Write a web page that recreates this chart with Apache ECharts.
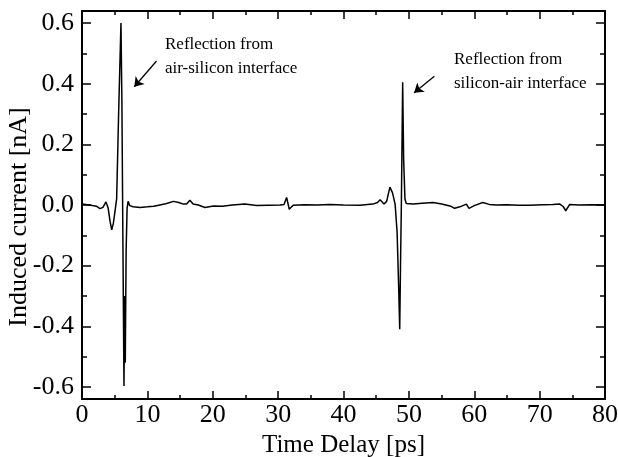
<!DOCTYPE html>
<html>
<head>
<meta charset="utf-8">
<script src="https://cdn.jsdelivr.net/npm/echarts@6/dist/echarts.min.js"></script>
<style>
html,body{margin:0;padding:0;background:#fff;}
#chart{width:618px;height:457px;}
</style>
</head>
<body>
<div id="chart"></div>
<script>
// ---- data ----
const timePs = [0,0.8,1.6,2.2,2.75,3.2,3.67,4.0,4.3,4.55,4.8,5.05,5.3,5.6,5.96,6.1,6.25,6.42,6.52,6.62,6.75,6.9,7.05,7.3,7.8,8.9,10.0,11.0,11.9,12.8,14.0,14.8,15.5,16.0,16.5,17.0,17.8,18.8,20.1,21.5,23.0,24.9,26.7,28.5,30.3,30.9,31.3,31.7,32.3,34.0,36.0,37.9,40.0,42.5,44.5,45.2,45.6,46.2,46.6,47.1,47.5,47.9,48.2,48.45,48.6,48.72,48.85,49.05,49.2,49.4,49.6,50.7,52.0,53.7,55.0,56.3,57.0,57.8,58.8,59.2,60.0,61.3,62.3,63.4,65.0,66.8,68.5,70.5,72.0,73.1,73.6,74.0,74.6,76.0,78.0,80.0];
const currentNA = [0.003,0.001,-0.002,-0.004,-0.012,-0.008,0.010,-0.01,-0.055,-0.082,-0.06,-0.02,0.02,0.3,0.600,0.35,-0.1,-0.597,-0.3,-0.52,-0.15,-0.01,0.012,-0.002,-0.006,-0.008,-0.006,-0.004,0.0,0.004,0.012,0.008,0.003,0.003,0.016,0.003,0.0,-0.008,-0.003,-0.004,0.0,0.003,-0.002,-0.001,0.0,0.002,0.025,-0.014,-0.001,0.001,0.0,0.002,0.0,-0.001,0.003,0.008,0.017,0.003,0.012,0.059,0.04,0.002,-0.09,-0.28,-0.41,-0.2,0.0,0.405,0.15,0.02,0.005,0.003,0.006,0.008,0.003,-0.003,-0.011,-0.006,0.003,-0.011,-0.002,0.008,0.002,0.0,0.001,-0.001,-0.001,0.001,0.002,0.003,-0.005,-0.019,0.002,0.0,0.001,0.0];
const yMajorTicks = [-0.6,-0.4,-0.2,0.0,0.2,0.4,0.6];
const yMinorTicks = [-0.5,-0.3,-0.1,0.1,0.3,0.5];
const xLabel = 'Time Delay [ps]';
const yLabel = 'Induced current [nA]';
const noteLeft = ['Reflection from', 'air-silicon interface'];
const noteRight = ['Reflection from', 'silicon-air interface'];

const FONT = '"Liberation Serif","Times New Roman",serif';
const seriesData = timePs.map((t, i) => [t, currentNA[i]]);

const axisLineStyle = {show: true, onZero: false, lineStyle: {color: '#000', width: 2}};
function xAx(pos, showLabel) {
  return {
    type: 'value', position: pos, min: 0, max: 80, interval: 10,
    axisLine: axisLineStyle,
    axisTick: {show: true, inside: true, length: 8, lineStyle: {color: '#000', width: 1.5}},
    minorTick: {show: true, splitNumber: 2, length: 4, lineStyle: {color: '#000', width: 1.5}},
    axisLabel: {show: showLabel, color: '#000', fontFamily: FONT, fontSize: 26, margin: 3},
    splitLine: {show: false}, minorSplitLine: {show: false},
    name: showLabel ? xLabel : '', nameLocation: 'middle', nameGap: 32,
    nameTextStyle: {color: '#000', fontFamily: FONT, fontSize: 25}
  };
}
function yAx(pos, ticks, len, showLabel, showLine) {
  return {
    type: 'value', position: pos, min: -0.64, max: 0.64,
    axisLine: showLine ? axisLineStyle : {show: false, onZero: false},
    axisTick: {show: true, inside: true, length: len, customValues: ticks, lineStyle: {color: '#000', width: 1.5}},
    axisLabel: {show: showLabel, customValues: yMajorTicks, color: '#000', fontFamily: FONT, fontSize: 26, margin: 8,
      formatter: v => Number(v).toFixed(1)},
    splitLine: {show: false}
  };
}

const chart = echarts.init(document.getElementById('chart'), null, {renderer: 'canvas'});
chart.setOption({
  animation: false,
  backgroundColor: '#fff',
  grid: {left: 82, right: 13, top: 11, bottom: 58, containLabel: false, outerBoundsMode: 'none'},
  xAxis: [xAx('bottom', true), xAx('top', false)],
  yAxis: [
    yAx('left', yMajorTicks, 9, true, true),
    yAx('left', yMinorTicks, 5, false, false),
    yAx('right', yMajorTicks, 9, false, true),
    yAx('right', yMinorTicks, 5, false, false)
  ],
  series: [{
    type: 'line', data: seriesData, xAxisIndex: 0, yAxisIndex: 0,
    showSymbol: false, symbol: 'none',
    lineStyle: {color: '#000', width: 1.5},
    markLine: {
      silent: true, symbol: ['none', 'arrow'], symbolSize: 9,
      label: {show: false},
      lineStyle: {color: '#000', width: 1.3, type: 'solid'},
      data: [
        [{coord: [11.4, 0.475]}, {coord: [8.0, 0.39]}],
        [{coord: [53.9, 0.425]}, {coord: [50.8, 0.37]}]
      ]
    }
  }],
  graphic: [
    {type: 'text', x: 19, y: 217, rotation: Math.PI / 2,
      style: {text: yLabel, font: '26px ' + FONT, fill: '#000', align: 'center', verticalAlign: 'middle'}},
    {type: 'text', left: 165, top: 33, style: {text: noteLeft.join('\n'), font: '17px ' + FONT, fill: '#000', lineHeight: 24}},
    {type: 'text', left: 454, top: 48, style: {text: noteRight.join('\n'), font: '17px ' + FONT, fill: '#000', lineHeight: 24}}
  ]
});
</script>
</body>
</html>
